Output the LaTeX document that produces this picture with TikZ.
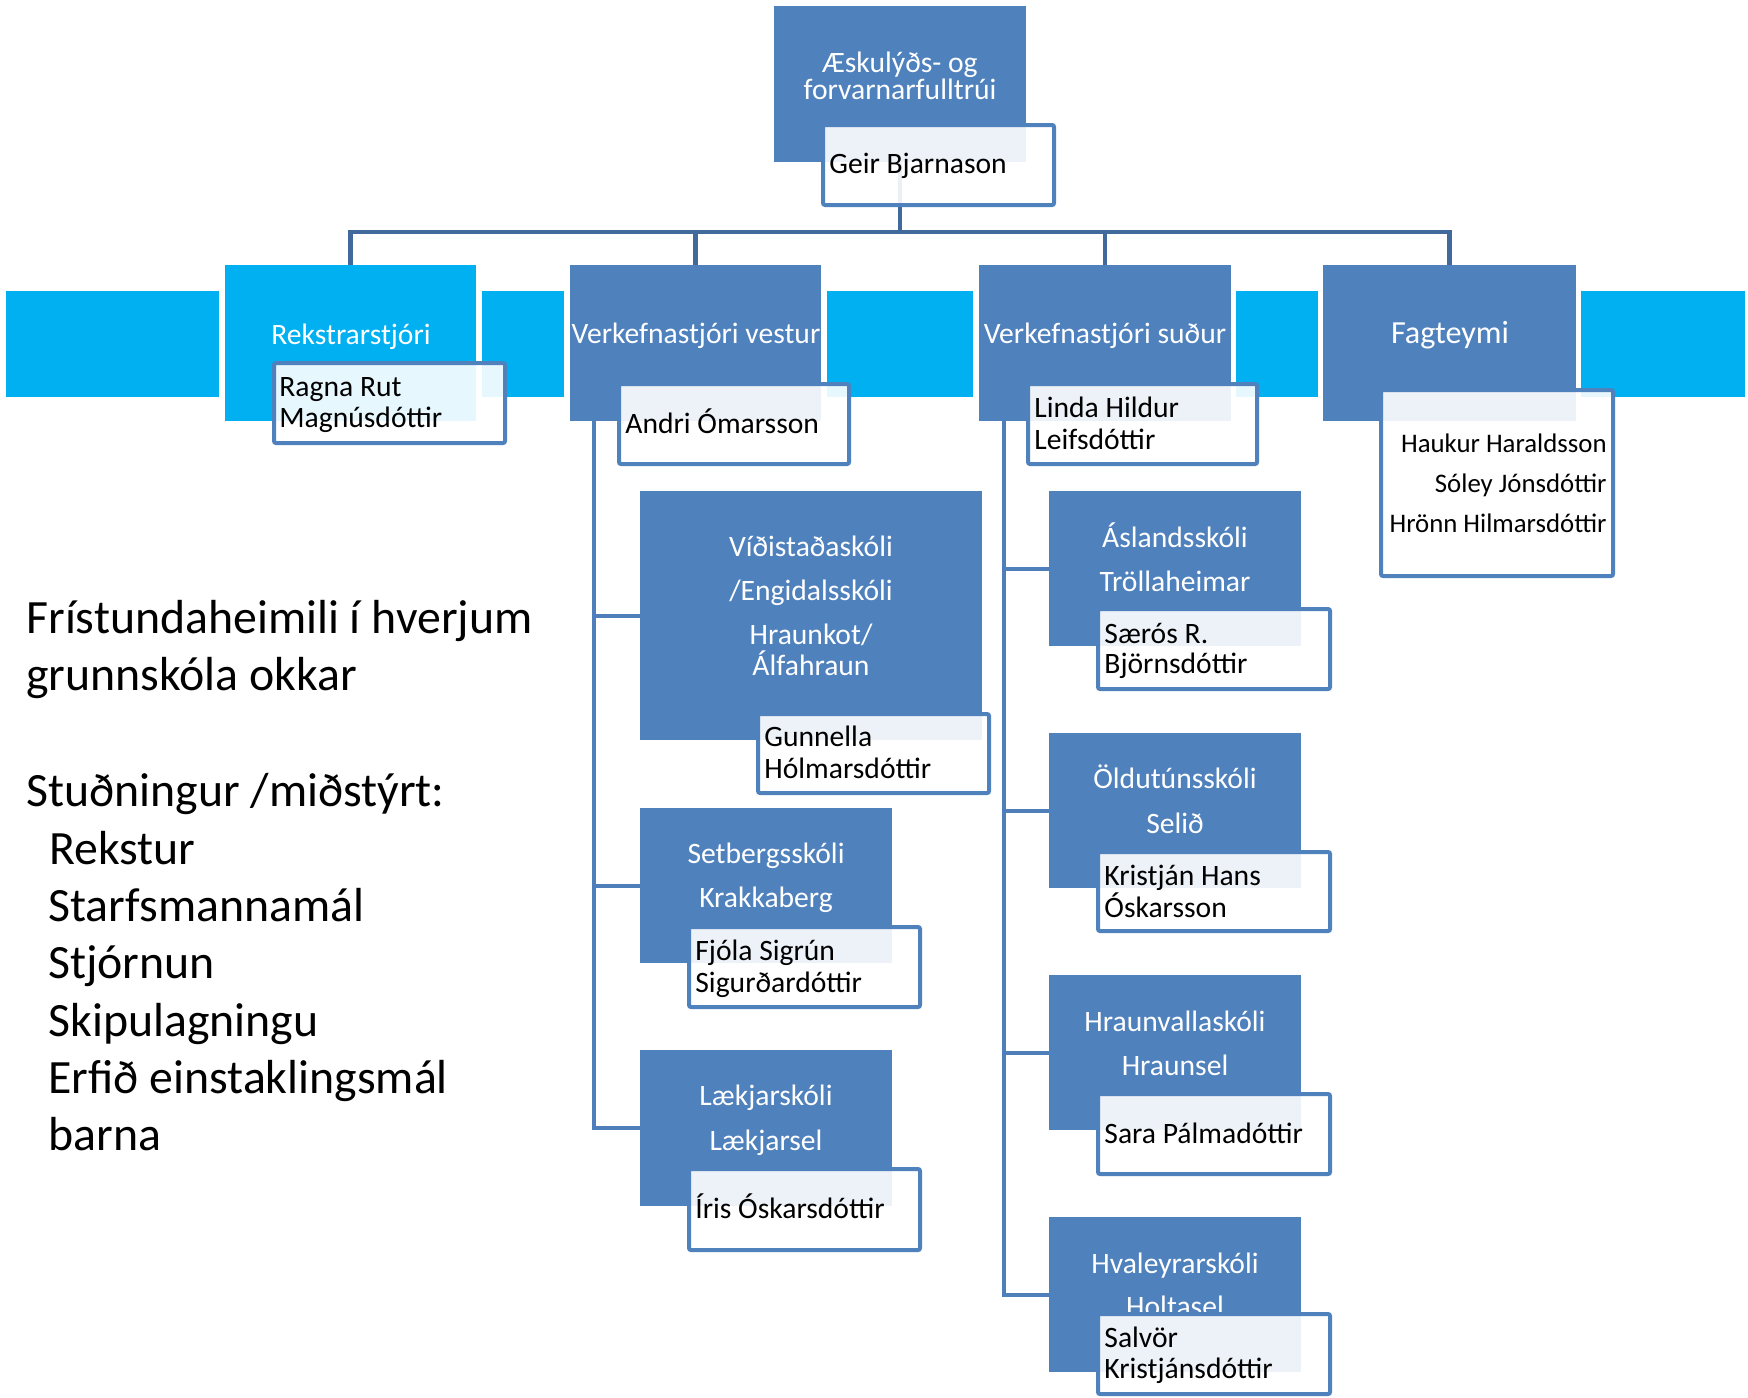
\documentclass[tikz,border=0pt]{standalone}
\usepackage{fontspec}
\setmainfont{Carlito}
\usetikzlibrary{fit}
\definecolor{boxblue}{HTML}{4F81BD}
\definecolor{cyanband}{HTML}{00B0F0}
\definecolor{busblue}{HTML}{41699B}
\definecolor{colblue}{HTML}{4F7FBB}
\newcommand\titlefont{\fontsize{14.8}{17}\selectfont}
\newcommand\fagfont{\fontsize{16.1}{19}\selectfont}
\newcommand\namefont{\fontsize{14.8}{17}\selectfont}
\newcommand\fagnamefont{\fontsize{13.4}{16}\selectfont}
\newcommand\sidefont{\fontsize{23.9}{28}\selectfont}
\begin{document}
\begin{tikzpicture}[x=0.5pt,y=-0.5pt,
  bluebox/.style={fill=boxblue, draw=none, inner sep=0pt},
  cyanbox/.style={fill=cyanband, draw=none, inner sep=0pt},
  namebox/.style={fill=white, fill opacity=0.9, draw=boxblue, draw opacity=1, line width=2pt, rounded corners=1pt, inner sep=0pt},
  title/.style={text=white, font=\titlefont, anchor=base, inner sep=0pt},
  person/.style={text=black, font=\namefont, anchor=base west, inner sep=0pt},
  fagperson/.style={text=black, font=\fagnamefont, anchor=base east, inner sep=0pt},
  side/.style={text=black, font=\sidefont, anchor=base west, inner sep=0pt},
  busline/.style={draw=busblue, line width=2.25pt},
  colline/.style={draw=colblue, line width=2pt}]
\useasboundingbox (0,0) rectangle (1748,1397);

% cyan band pieces
\node[cyanbox, fit={(6,291) (219,397)}] (c1) {};
\node[cyanbox, fit={(482,291) (564,397)}] (c2) {};
\node[cyanbox, fit={(827,291) (973,397)}] (c3) {};
\node[cyanbox, fit={(1236,291) (1318,397)}] (c4) {};
\node[cyanbox, fit={(1581,291) (1745,397)}] (c5) {};

% boxes
\node[bluebox, fit={(774,6) (1026,162)}] (top) {};
\node[cyanbox, fit={(225,265) (476,421)}] (rek) {};
\node[bluebox, fit={(570,265) (821,421)}] (vest) {};
\node[bluebox, fit={(979,265) (1231,421)}] (sud) {};
\node[bluebox, fit={(1323,265) (1576,421)}] (fag) {};
\node[bluebox, fit={(640,491) (982,740)}] (vid) {};
\node[bluebox, fit={(640,808) (892,963)}] (set) {};
\node[bluebox, fit={(640,1050) (892,1206)}] (lak) {};
\node[bluebox, fit={(1049,491) (1301,646)}] (asl) {};
\node[bluebox, fit={(1049,733) (1301,888)}] (old) {};
\node[bluebox, fit={(1049,975) (1301,1130)}] (hrv) {};
\node[bluebox, fit={(1049,1217) (1301,1372)}] (hva) {};

% connectors
\coordinate (bus) at (900,232);
\draw[busline] (top.south) -- (bus);
\draw[busline] (rek.north) |- (bus);
\draw[busline] (fag.north) |- (bus);
\draw[busline] (vest.north) -- (vest.north |- bus);
\draw[busline] (sud.north) -- (sud.north |- bus);
\coordinate (lc) at ([xshift=12pt]vest.south west);
\coordinate (rc) at ([xshift=12.5pt]sud.south west);
\draw[colline] (lc) |- (vid.west);
\draw[colline] (lc) |- (set.west);
\draw[colline] (lc) |- (lak.west);
\draw[colline] (rc) |- (asl.west);
\draw[colline] (rc) |- (old.west);
\draw[colline] (rc) |- (hrv.west);
\draw[colline] (rc) |- (hva.west);

% titles
\node[title] (t1a) at (900,72) {Æskulýðs- og};
\node[title] (t1b) at (900,99) {forvarnarfulltrúi};
\node[title] (t2) at (351,344) {Rekstrarstjóri};
\node[title] (t3) at (696,343) {Verkefnastjóri vestur};
\node[title] (t4) at (1105,343) {Verkefnastjóri suður};
\node[title, font=\fagfont] (t5) at (1450,343) {Fagteymi};
\node[title] (t6a) at (811,556) {Víðistaðaskóli};
\node[title] (t6b) at (811,600) {/Engidalsskóli};
\node[title] (t6c) at (811,644) {Hraunkot/};
\node[title] (t6d) at (811,675) {Álfahraun};
\node[title] (t7a) at (766,863) {Setbergsskóli};
\node[title] (t7b) at (766,907) {Krakkaberg};
\node[title] (t8a) at (766,1105) {Lækjarskóli};
\node[title] (t8b) at (766,1150) {Lækjarsel};
\node[title] (t9a) at (1175,547) {Áslandsskóli};
\node[title] (t9b) at (1175,591) {Tröllaheimar};
\node[title] (t10a) at (1175,788) {Öldutúnsskóli};
\node[title] (t10b) at (1175,833) {Selið};
\node[title] (t11a) at (1175,1031) {Hraunvallaskóli};
\node[title] (t11b) at (1175,1075) {Hraunsel};
\node[title] (t12a) at (1175,1273) {Hvaleyrarskóli};
\node[title] (t12b) at (1175,1316) {Holtasel};

% name boxes
\node[namebox, fit={(823,125) (1054,205)}] (nGeir) {};
\node[namebox, fit={(274,363) (505,443)}] (nRek) {};
\node[namebox, fit={(619,384) (849,464)}] (nAnd) {};
\node[namebox, fit={(1028,384) (1257,464)}] (nLin) {};
\node[namebox, fit={(1381,390) (1613,576)}] (nFag) {};
\node[namebox, fit={(758,714) (989,793)}] (nGun) {};
\node[namebox, fit={(689,927) (920,1007)}] (nFjo) {};
\node[namebox, fit={(689,1169) (920,1250)}] (nIri) {};
\node[namebox, fit={(1098,609) (1330,689)}] (nSae) {};
\node[namebox, fit={(1098,852) (1330,931)}] (nKri) {};
\node[namebox, fit={(1098,1094) (1330,1174)}] (nSar) {};
\node[namebox, fit={(1098,1314) (1330,1394)}] (nSal) {};

% names
\node[person] (p1) at (829,173) {Geir Bjarnason};
\node[person] (p2a) at (279,396) {Ragna Rut};
\node[person] (p2b) at (279,427) {Magnúsdóttir};
\node[person] (p3) at (625,433) {Andri Ómarsson};
\node[person] (p4a) at (1034,417) {Linda Hildur};
\node[person] (p4b) at (1034,449) {Leifsdóttir};
\node[fagperson] (p5a) at (1607,452) {Haukur Haraldsson};
\node[fagperson] (p5b) at (1607,492) {Sóley Jónsdóttir};
\node[fagperson] (p5c) at (1607,532) {Hrönn Hilmarsdóttir};
\node[person] (p6a) at (764,746) {Gunnella};
\node[person] (p6b) at (764,778) {Hólmarsdóttir};
\node[person] (p7a) at (695,960) {Fjóla Sigrún};
\node[person] (p7b) at (695,992) {Sigurðardóttir};
\node[person] (p8) at (695,1218) {Íris Óskarsdóttir};
\node[person] (p9a) at (1104,643) {Særós R.};
\node[person] (p9b) at (1104,673) {Björnsdóttir};
\node[person] (p10a) at (1104,885) {Kristján Hans};
\node[person] (p10b) at (1104,917) {Óskarsson};
\node[person] (p11) at (1104,1143) {Sara Pálmadóttir};
\node[person] (p12a) at (1104,1347) {Salvör};
\node[person] (p12b) at (1104,1378) {Kristjánsdóttir};

% side text
\node[side] (s1) at (26,633) {Frístundaheimili í hverjum};
\node[side] (s2) at (26,690) {grunnskóla okkar};
\node[side] (s3) at (26,806) {Stuðningur /miðstýrt:};
\node[side] (s4) at (49,864) {Rekstur};
\node[side] (s5) at (48,921) {Starfsmannamál};
\node[side] (s6) at (48,978) {Stjórnun};
\node[side] (s7) at (48,1036) {Skipulagningu};
\node[side] (s8) at (48,1093) {Erfið einstaklingsmál};
\node[side] (s9) at (48,1150) {barna};
\end{tikzpicture}
\end{document}
